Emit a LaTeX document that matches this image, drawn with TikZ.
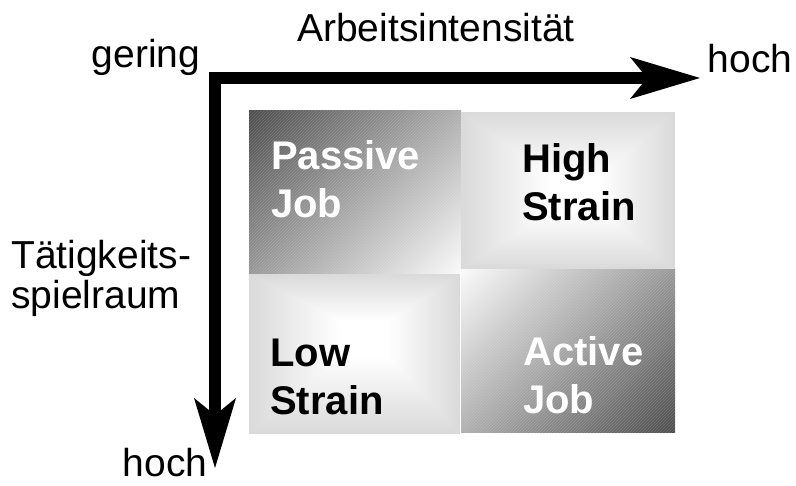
\documentclass[tikz,border=0pt]{standalone}
\usepackage{fontspec}
\setmainfont{Liberation Sans}
\usetikzlibrary{arrows.meta,patterns}
\definecolor{qdark}{HTML}{4B4B4B}
\definecolor{qlight}{HTML}{FAFAFA}
\definecolor{qedge}{HTML}{DADADA}
\pgfdeclareverticalshading{diagPassive}{100bp}{color(0bp)=(qlight); color(14.6bp)=(qlight); color(85.4bp)=(qdark); color(100bp)=(qdark)}
\pgfdeclareverticalshading{diagActive}{100bp}{color(0bp)=(qdark); color(14.6bp)=(qdark); color(85.4bp)=(qlight); color(100bp)=(qlight)}
\newcommand\radbox[6]{%
  \foreach \i in {0,...,48}{%
    \pgfmathsetmacro\rt{\i/48}%
    \pgfmathsetmacro\rp{min(100,130*\rt)}%
    \fill[white!\rp!qedge] ({#1+(#5-#1)*\rt},{#2+(#6-#2)*\rt}) rectangle ({#3+(#5-#3)*\rt},{#4+(#6-#4)*\rt});
  }}
\begin{document}
\begin{tikzpicture}[x=1pt,y=-1pt,
  lab/.style={font=\fontsize{39}{39}\selectfont, inner sep=0pt, anchor=base west},
  qlab/.style={font=\fontsize{40}{48}\selectfont\bfseries, inner sep=0pt, anchor=base west},
  hatch/.style={pattern=north east lines, pattern color=white, opacity=.18},
  axis/.style={line width=11.5pt, line join=miter,
    arrows={Stealth[length=70pt,width=42pt,inset=17pt,line width=0pt]-Stealth[length=70pt,width=42pt,inset=17pt,line width=0pt]}}]
\useasboundingbox (0,0) rectangle (796,486);
% quadrants
\shade[shading=diagPassive, shading angle=45] (249,111) rectangle (461,274);
\fill[hatch] (249,111) rectangle (461,274);
\shade[shading=diagActive, shading angle=45] (461,269) rectangle (675,433);
\fill[hatch] (461,269) rectangle (675,433);
\radbox{461}{112}{675}{269}{578}{195}
\radbox{249}{274}{460}{434}{368}{335}
% axes
\coordinate (o) at (215,78);
\coordinate (xe) at (700,78);
\coordinate (ye) at (215,468);
\draw[axis] (ye) -- (o) -- (xe);
% labels
\node[lab] (ar) at (297,42) {Arbeitsintensität};
\node[lab] (ge) at (91.5,68) {gering};
\node[lab] (h1) at (707.5,73) {hoch};
\node[lab, text depth=0pt] (h2) at (122.5,477) {hoch};
\node[lab] (tk) at (11,269) {\begin{tabular}[t]{@{}l@{}}Tätigkeits-\\spielraum\end{tabular}};
\node[qlab, text=white] (pj) at (271,170) {\begin{tabular}[t]{@{}l@{}}Passive\\Job\end{tabular}};
\node[qlab] (hs) at (522,173) {\begin{tabular}[t]{@{}l@{}}High\\Strain\end{tabular}};
\node[qlab] (ls) at (270,367) {\begin{tabular}[t]{@{}l@{}}Low\\Strain\end{tabular}};
\node[qlab, text=white] (aj) at (523,366) {\begin{tabular}[t]{@{}l@{}}Active\\Job\end{tabular}};
\end{tikzpicture}
\end{document}
